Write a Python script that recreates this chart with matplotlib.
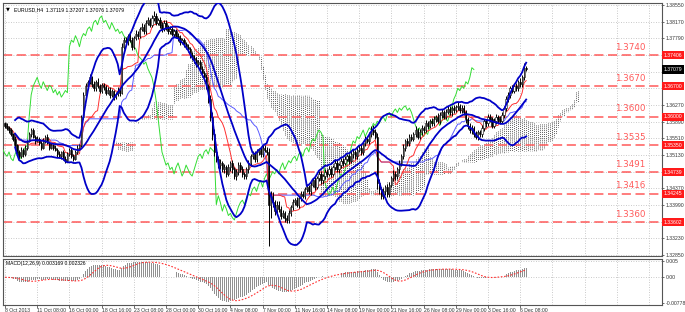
import numpy as np
import pandas as pd
import matplotlib
matplotlib.use("Agg")
import matplotlib.pyplot as plt
from matplotlib.patches import Rectangle

# ---------------- data ----------------
first_open = 1.3585
closes = [
    1.3580, 1.3575, 1.3570, 1.3560, 1.3550,
    1.3535, 1.3520, 1.3510, 1.3525, 1.3515, 1.3530, 1.3545,
    1.3560, 1.3570, 1.3555, 1.3545, 1.3550,
    1.3540, 1.3530, 1.3545, 1.3555, 1.3540, 1.3530, 1.3535, 1.3530,
    1.3525, 1.3515, 1.3510, 1.3520, 1.3505, 1.3500, 1.3515, 1.3525, 1.3510, 1.3505, 1.3520, 1.3530, 1.3535,
    1.3600, 1.3650,
    1.3670, 1.3680, 1.3690, 1.3675, 1.3665, 1.3680, 1.3670, 1.3660, 1.3672, 1.3668, 1.3655, 1.3662,
    1.3650, 1.3658, 1.3645, 1.3652, 1.3660, 1.3655,
    1.3760, 1.3775,
    1.3770, 1.3785, 1.3775, 1.3760, 1.3780, 1.3790, 1.3785, 1.3800,
    1.3805, 1.3795, 1.3815, 1.3820, 1.3810, 1.3825, 1.3830, 1.3815, 1.3820,
    1.3810, 1.3800, 1.3815, 1.3805, 1.3795, 1.3800, 1.3790, 1.3795, 1.3785,
    1.3780, 1.3770, 1.3775, 1.3765, 1.3760, 1.3755, 1.3740, 1.3735,
    1.3730, 1.3720, 1.3725, 1.3710, 1.3700, 1.3690,
    1.3670, 1.3640, 1.3600, 1.3560, 1.3520,
    1.3505, 1.3490, 1.3495, 1.3480, 1.3485, 1.3470, 1.3485, 1.3495, 1.3480, 1.3465, 1.3475, 1.3490,
    1.3480, 1.3470, 1.3465,
    1.3480, 1.3495, 1.3510, 1.3515, 1.3505, 1.3520, 1.3525, 1.3515, 1.3530, 1.3525, 1.3520,
    1.3400,
    1.3420, 1.3405, 1.3385, 1.3400, 1.3390, 1.3375, 1.3380, 1.3370,
    1.3365, 1.3380, 1.3395, 1.3405, 1.3410, 1.3400,
    1.3415, 1.3425, 1.3420, 1.3435, 1.3440, 1.3430,
    1.3445, 1.3455, 1.3440, 1.3460, 1.3470, 1.3455, 1.3465, 1.3475, 1.3470,
    1.3480, 1.3470, 1.3485, 1.3495, 1.3480, 1.3490, 1.3500,
    1.3495, 1.3505, 1.3510, 1.3500, 1.3515, 1.3520, 1.3510, 1.3525,
    1.3530, 1.3520, 1.3540, 1.3550, 1.3545, 1.3560, 1.3570,
    1.3565, 1.3555, 1.3450,
    1.3435, 1.3420, 1.3430, 1.3440, 1.3425,
    1.3445, 1.3460, 1.3470, 1.3465, 1.3480, 1.3495, 1.3510,
    1.3530, 1.3545, 1.3540, 1.3555, 1.3550, 1.3560,
    1.3570, 1.3555, 1.3565, 1.3575, 1.3570, 1.3585, 1.3580, 1.3590, 1.3585, 1.3595,
    1.3600, 1.3590, 1.3605, 1.3610, 1.3600, 1.3612, 1.3618, 1.3610, 1.3620, 1.3615,
    1.3622, 1.3625, 1.3615, 1.3620, 1.3610,
    1.3595, 1.3580, 1.3570, 1.3575, 1.3560, 1.3555, 1.3565, 1.3560,
    1.3575, 1.3590, 1.3585, 1.3600, 1.3595, 1.3580, 1.3590, 1.3600, 1.3595, 1.3590, 1.3605,
    1.3620, 1.3640, 1.3650, 1.3665, 1.3660,
    1.3670, 1.3665, 1.3680, 1.3675, 1.3690, 1.3712, 1.3708,
]

# wick lengths in pips beyond the candle body
up_wick = [
    4, 6, 3, 5, 4, 7, 3, 5, 6, 4,
    5, 3, 6, 4, 5, 3, 7, 4, 5, 6,
    3, 5, 4, 6, 3, 5, 4, 7, 3, 5,
    6, 4, 5, 3, 6, 4, 5, 3, 5, 6,
    8, 5, 7, 4, 6, 5, 8, 4, 6, 5,
    4, 7, 5, 6, 4, 5, 7, 5, 8, 6,
    7, 5, 6, 8, 5, 7, 6, 5, 8, 6,
    5, 7, 6, 8, 12, 6, 5, 7, 6, 5,
    6, 5, 7, 4, 6, 5, 7, 6, 5, 4,
    6, 5, 4, 7, 5, 6, 4, 5, 6, 5,
    8, 6, 9, 10, 12, 7, 6, 8, 5, 7,
    6, 8, 5, 7, 6, 5, 8, 6, 7, 5,
    6, 7, 5, 8, 6, 7, 5, 6, 8, 6,
    7, 10, 12, 8, 6, 7, 9, 6, 8, 5,
    6, 7, 5, 8, 6, 7, 5, 6, 7, 5,
    6, 5, 7, 6, 8, 5, 6, 7, 5, 6,
    5, 7, 6, 5, 8, 6, 5, 7, 6, 5,
    6, 5, 7, 6, 5, 8, 6, 7, 5, 6,
    7, 6, 8, 12, 7, 9, 8, 6, 7, 5,
    6, 7, 5, 8, 6, 5, 7, 6, 8, 5,
    6, 7, 5, 6, 8, 5, 7, 6, 5, 7,
    6, 5, 7, 6, 5, 8, 6, 7, 5, 6,
    7, 6, 5, 8, 6, 9, 5, 6, 7, 6,
    5, 7, 6, 5, 8, 6, 5, 7, 6, 5,
    7, 6, 5, 8, 6, 5, 7, 6, 5, 8,
    7, 6, 8, 6, 7, 5, 8, 6, 10, 5,
]
dn_wick = [
    5, 4, 6, 3, 5, 4, 7, 5, 4, 6,
    4, 6, 3, 5, 4, 6, 3, 5, 6, 4,
    5, 3, 6, 4, 5, 3, 6, 4, 5, 3,
    6, 4, 5, 3, 6, 4, 5, 3, 4, 5,
    5, 6, 4, 7, 5, 6, 4, 6, 5, 7,
    6, 4, 7, 5, 6, 4, 5, 7, 4, 5,
    6, 7, 5, 8, 6, 5, 7, 6, 5, 6,
    7, 5, 6, 5, 7, 6, 5, 7, 6, 5,
    6, 7, 5, 6, 8, 5, 6, 7, 5, 6,
    5, 7, 6, 5, 8, 6, 7, 5, 6, 7,
    6, 8, 10, 12, 10, 8, 7, 9, 6, 8,
    7, 6, 8, 7, 6, 9, 7, 6, 8, 7,
    6, 8, 7, 6, 9, 7, 8, 6, 7, 6,
    7, 95, 30, 10, 8, 9, 7, 8, 6, 9,
    8, 7, 6, 8, 7, 6, 7, 8, 6, 7,
    6, 7, 8, 6, 7, 5, 6, 8, 7, 6,
    7, 6, 8, 5, 7, 6, 8, 7, 6, 5,
    6, 7, 5, 8, 6, 7, 5, 6, 7, 6,
    5, 6, 7, 6, 5, 15, 10, 8, 7, 9,
    8, 7, 6, 7, 8, 6, 7, 6, 5, 7,
    6, 7, 5, 6, 7, 5, 6, 7, 6, 5,
    7, 6, 5, 7, 6, 5, 6, 7, 5, 6,
    6, 5, 7, 6, 5, 6, 7, 6, 5, 8,
    7, 6, 8, 7, 6, 8, 7, 6, 7, 8,
    6, 7, 5, 6, 7, 8, 6, 5, 7, 6,
    6, 7, 5, 6, 7, 5, 6, 7, 5, 4,
]

level_prices = [1.37406, 1.36700, 1.36000, 1.35350, 1.34739, 1.34245, 1.33602]
level_names = ["1.3740", "1.3670", "1.3600", "1.3535", "1.3491", "1.3416", "1.3360"]
level_boxes = ["1.37406", "1.36700", "1.36000", "1.35350", "1.34739", "1.34245", "1.33602"]
current_price = 1.37079
price_ticks = [1.38550, 1.38170, 1.37790, 1.37410, 1.37030, 1.36650, 1.36270, 1.35890,
               1.35510, 1.35130, 1.34750, 1.34370, 1.33990, 1.33610, 1.33230, 1.32850]
hidden_ticks = [1.37410, 1.37030, 1.36650, 1.34750, 1.33610]
time_labels = ["8 Oct 2013", "11 Oct 08:00", "16 Oct 00:00", "18 Oct 16:00", "23 Oct 08:00",
               "28 Oct 00:00", "30 Oct 16:00", "4 Nov 08:00", "7 Nov 00:00", "11 Nov 16:00",
               "14 Nov 08:00", "19 Nov 00:00", "21 Nov 16:00", "26 Nov 08:00", "29 Nov 00:00",
               "3 Dec 16:00", "6 Dec 08:00"]
title_text = "EURUSD,H4  1.37119 1.37207 1.37076 1.37079"
macd_text = "MACD(12,26,9) 0.003169 0.002326"
macd_ticks = [0.005, 0.0, -0.00778]
macd_tick_labels = ["0.005", "0.00", "-0.00778"]

# ---------------- computations ----------------
n = min(len(closes), len(up_wick), len(dn_wick))
c = np.array(closes[:n])
o = np.r_[first_open, c[:-1]]
h = np.maximum(o, c) + np.array(up_wick[:n]) * 1e-4
l = np.minimum(o, c) - np.array(dn_wick[:n]) * 1e-4
x = np.arange(n)
S, H, L = pd.Series(c), pd.Series(h), pd.Series(l)

bb_mid = S.rolling(20, min_periods=6).mean()
bb_sd = S.rolling(20, min_periods=6).std(ddof=0)
bb_up = bb_mid + 2 * bb_sd
bb_lo = bb_mid - 2 * bb_sd

tenkan = (H.rolling(9, min_periods=3).max() + L.rolling(9, min_periods=3).min()) / 2
kijun = (H.rolling(26, min_periods=8).max() + L.rolling(26, min_periods=8).min()) / 2
span_a = (tenkan + kijun) / 2
span_b = (H.rolling(52, min_periods=30).max() + L.rolling(52, min_periods=30).min()) / 2

ema12 = S.ewm(span=12, adjust=False).mean()
ema26 = S.ewm(span=26, adjust=False).mean()
macd = ema12 - ema26
signal = macd.rolling(9, min_periods=1).mean()

# ---------------- figure ----------------
SMALL = ["Liberation Sans", "DejaVu Sans"]
W, Hpx = 685, 312
fig = plt.figure(figsize=(W / 100, Hpx / 100), dpi=100)
fig.patch.set_facecolor("white")

def frac(x0, y0, x1, y1):
    return [x0 / W, 1 - y1 / Hpx, (x1 - x0) / W, (y1 - y0) / Hpx]

ax = fig.add_axes(frac(3, 3, 662, 256))
ax2 = fig.add_axes(frac(3, 259, 662, 305))

ylo = 1.38550 - 251 * 0.000228
yhi = 1.38550 + 2 * 0.000228
xmin, xmax = -1.0, 326.5

for a in (ax, ax2):
    a.set_xlim(xmin, xmax)
    for s in a.spines.values():
        s.set_color("#555555")
        s.set_linewidth(0.8)

ax.set_ylim(ylo, yhi)

tick_pos = [16 * k for k in range(len(time_labels))]
grid_kw = dict(color="#b8b8b8", linestyle=(0, (1, 2)), linewidth=0.6, zorder=0)
for xp in range(0, int(xmax), 16):
    ax.axvline(xp, **grid_kw)
    ax2.axvline(xp, **grid_kw)
for yp in price_ticks:
    ax.axhline(yp, **grid_kw)

# Ichimoku cloud (dotted histogram shifted forward 26 bars)
xf = x + 26
ok = ~(np.isnan(span_a.values) | np.isnan(span_b.values))
ax.vlines(xf[ok], span_a.values[ok], span_b.values[ok], colors="#2e2e2e",
          linestyles=(0, (1, 1.3)), linewidth=0.6, zorder=1)

# horizontal levels
for lv, nm in zip(level_prices, level_names):
    ax.axhline(lv, color="#ff5a5a", linestyle=(0, (6, 3)), linewidth=1.1, zorder=2)
    ax.annotate(nm, xy=(0.975, lv), xycoords=("axes fraction", "data"),
                xytext=(0, 2.5), textcoords="offset points", ha="right", va="bottom",
                color="#ff5a5a", fontsize=6.3)

# Chikou span
ax.plot(x - 26, c, color="#33dd33", lw=0.7, zorder=3)
# Kijun / Tenkan
ax.plot(x, kijun, color="#5a5aff", lw=0.7, zorder=3)
ax.plot(x, tenkan, color="#ff3030", lw=0.7, zorder=3)

# candles
ax.vlines(x, l, h, color="black", lw=0.7, zorder=4)
for i in range(n):
    bot = min(o[i], c[i])
    ht = max(abs(c[i] - o[i]), 0.00004)
    fc = "white" if c[i] >= o[i] else "black"
    ax.add_patch(Rectangle((x[i] - 0.3, bot), 0.6, ht, facecolor=fc,
                           edgecolor="black", linewidth=0.4, zorder=5))

# Bollinger bands
for ser in (bb_up, bb_mid, bb_lo):
    ax.plot(x, ser, color="#0000c8", lw=1.3, zorder=6)

# right price axis
ax.yaxis.tick_right()
ax.set_yticks(price_ticks)
ax.set_yticklabels(["" if t in hidden_ticks else f"{t:.5f}" for t in price_ticks],
                   fontsize=3.7, family=SMALL)
ax.tick_params(axis="y", length=1.5, width=0.5, pad=1.0, colors="#333333")
ax.set_xticks([])

box_kw = dict(xycoords=("axes fraction", "data"), xytext=(1.2, 0), textcoords="offset points",
              ha="left", va="center", fontsize=3.7, color="white", family=SMALL)
for lv, bx in zip(level_prices, level_boxes):
    ax.annotate(bx, xy=(1.0, lv), bbox=dict(boxstyle="square,pad=0.3", fc="#ff1a1a", ec="none"),
                **box_kw)
ax.annotate(f"{current_price:.5f}", xy=(1.0, current_price),
            bbox=dict(boxstyle="square,pad=0.3", fc="black", ec="none"), **box_kw)

ax.text(0.004, 0.985, "\u25bc", transform=ax.transAxes, fontsize=3.6, va="top", ha="left")
ax.text(0.016, 0.985, title_text, transform=ax.transAxes, fontsize=3.7, va="top", ha="left",
        family=SMALL)

# MACD panel
ax2.bar(x, macd, width=0.45, color="#909090", zorder=2)
ax2.plot(x, signal, color="#ff3030", lw=0.8, linestyle=(0, (1.5, 1.5)), zorder=3)
ax2.set_ylim(-0.0085, 0.0056)
ax2.axhline(0, **grid_kw)
ax2.axhline(0.005, **grid_kw)
ax2.yaxis.tick_right()
ax2.set_yticks(macd_ticks)
ax2.set_yticklabels(macd_tick_labels, fontsize=3.7, family=SMALL)
ax2.tick_params(axis="y", length=1.5, width=0.5, pad=1.0, colors="#333333")
ax2.set_xticks(tick_pos)
ax2.set_xticklabels(time_labels, fontsize=3.7, ha="left", family=SMALL)
ax2.tick_params(axis="x", length=2, width=0.5, pad=0.5, colors="#333333")
ax2.text(0.004, 0.95, macd_text, transform=ax2.transAxes, fontsize=3.6, va="top", ha="left",
         family=SMALL)

fig.savefig("out.png", dpi=100)
